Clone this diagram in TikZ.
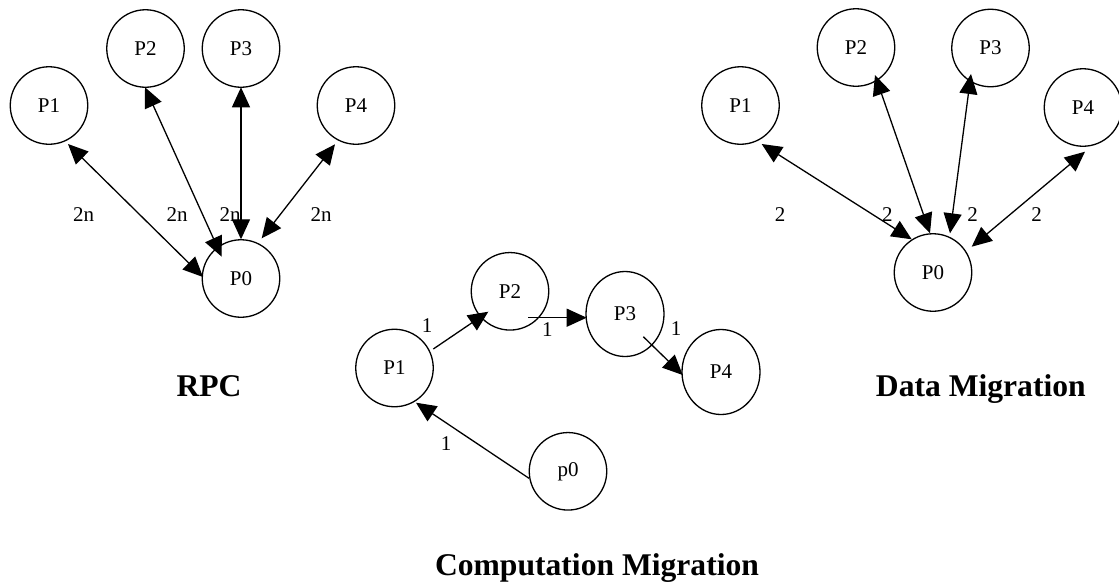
\documentclass[tikz,border=0pt]{standalone}
\usepackage{fontspec}
\setmainfont{Liberation Serif}
\usetikzlibrary{arrows.meta,shapes.geometric}
\begin{document}
\begin{tikzpicture}[x=1pt,y=-1pt,
  proc/.style={circle,draw,line width=1.3pt,minimum size=77.5pt,inner sep=0pt,font=\fontsize{21}{24}\selectfont},
  eproc/.style={ellipse,draw,line width=1.3pt,minimum width=78pt,minimum height=85pt,inner sep=0pt,font=\fontsize{21}{24}\selectfont},
  link/.style={line width=1.3pt,-{Triangle[length=20pt,width=18pt]}},
  dlink/.style={line width=1.3pt,{Triangle[length=20pt,width=18pt]}-{Triangle[length=20pt,width=18pt]}},
  lbl/.style={inner sep=0pt,font=\fontsize{21}{24}\selectfont},
  title/.style={inner sep=0pt,anchor=base,font=\fontsize{31.6}{36}\selectfont\bfseries}]
\useasboundingbox (0,0) rectangle (1119,582);
% RPC
\node[proc] (a1) at (49,105.5) {P1};
\node[proc] (a2) at (145.5,48.5) {P2};
\node[proc] (a3) at (241,48.5) {P3};
\node[proc] (a4) at (356,105.5) {P4};
\node[proc] (a0) at (241,278.5) {P0};
\draw[dlink] ([shift={(19,38.5)}]a1.center) -- ([shift={(-38,-1.5)}]a0.center);
\draw[dlink] ([shift={(-0.5,38.8)}]a2.center) -- ([shift={(-19.3,-21.8)}]a0.center);
\draw[dlink] ([shift={(0,38.8)}]a3.center) -- ([shift={(0,-39.2)}]a0.center);
\draw[dlink] ([shift={(-21,38.8)}]a4.center) -- ([shift={(20.7,-40.2)}]a0.center);
\node[lbl] (la1) at (83.5,215) {2n};
\node[lbl] (la2) at (177,215) {2n};
\node[lbl] (la3) at (230,215) {2n};
\node[lbl] (la4) at (321,215) {2n};
\node[title] (trpc) at (209,396) {RPC};
% Data Migration
\node[proc] (b1) at (740.5,105.5) {P1};
\node[proc] (b2) at (856,47.5) {P2};
\node[proc] (b3) at (990.5,48) {P3};
\node[proc] (b4) at (1083,107.5) {P4};
\node[proc] (b0) at (933,272.5) {P0};
\draw[dlink] ([shift={(21.2,38.5)}]b1.center) -- ([shift={(-21.3,-33.2)}]b0.center);
\draw[dlink] ([shift={(19,27.5)}]b2.center) -- ([shift={(-3,-39.2)}]b0.center);
\draw[dlink] ([shift={(-19.5,26)}]b3.center) -- ([shift={(17,-39.2)}]b0.center);
\draw[dlink] ([shift={(2,44.2)}]b4.center) -- ([shift={(38.7,-25.8)}]b0.center);
\node[lbl] (lb1) at (780,215) {2};
\node[lbl] (lb2) at (887.3,215) {2};
\node[lbl] (lb3) at (972.7,215) {2};
\node[lbl] (lb4) at (1036.7,215) {2};
\node[title] (tdm) at (980.8,396) {Data Migration};
% Computation Migration
\node[proc] (c1) at (394.5,368) {P1};
\node[proc] (c2) at (510,291.3) {P2};
\node[eproc] (c3) at (625,314) {P3};
\node[eproc] (c4) at (721,372) {P4};
\node[proc] (c0) at (568,471.3) {p0};
\draw[link] ([shift={(38.8,-19)}]c1.center) -- ([shift={(-21.7,20.4)}]c2.center);
\draw[link] ([shift={(18.3,26.4)}]c2.center) -- ([shift={(-38.3,3.7)}]c3.center);
\draw[link] ([shift={(18.3,22.7)}]c3.center) -- ([shift={(-38.3,3)}]c4.center);
\draw[link] ([shift={(-39,7)}]c0.center) -- ([shift={(21.5,34.7)}]c1.center);
\node[lbl] (lc1) at (427,325.5) {1};
\node[lbl] (lc2) at (547.3,329.3) {1};
\node[lbl] (lc3) at (676,328.3) {1};
\node[lbl] (lc4) at (446,444) {1};
\node[title] (tcm) at (597,575) {Computation Migration};
\end{tikzpicture}
\end{document}
